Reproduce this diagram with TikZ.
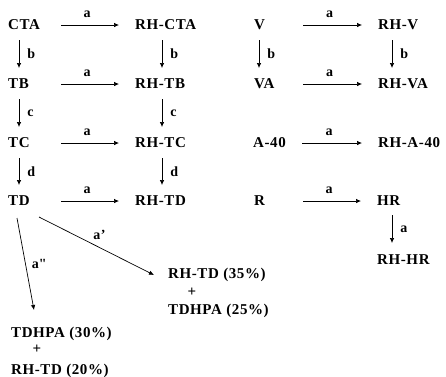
\documentclass[tikz,border=0pt]{standalone}
\usepackage{fontspec}
\setmainfont{Liberation Serif}[LetterSpace=4]
\newfontfamily\rawfont{Liberation Serif}[Ligatures=TeXOff]
\usetikzlibrary{arrows.meta,calc}
\tikzset{
  chem/.style={anchor=base west,inner sep=0pt,font=\fontsize{15}{17}\selectfont\bfseries},
  plus/.style={inner sep=0pt,font=\fontsize{15}{17}\selectfont\bfseries},
  lbl/.style={inner sep=0pt,font=\fontsize{14}{16}\selectfont\bfseries},
  rx/.style={line width=0.7pt,-{Latex[length=5pt,width=4.5pt]}}
}
\begin{document}
\begin{tikzpicture}[x=1pt,y=-1pt]
\useasboundingbox (0,0) rectangle (446,376);
% column 1/2
\node[chem] (cta) at (8,29) {CTA};
\node[chem] (rhcta) at (135,29) {RH-CTA};
\node[chem] (tb) at (8,88) {TB};
\node[chem] (rhtb) at (135,88) {RH-TB};
\node[chem] (tc) at (8,147) {TC};
\node[chem] (rhtc) at (135,147) {RH-TC};
\node[chem] (td) at (8,205) {TD};
\node[chem] (rhtd) at (135,205) {RH-TD};
% column 3/4
\node[chem] (v) at (254,29) {V};
\node[chem] (rhv) at (378,29) {RH-V};
\node[chem] (va) at (254,88) {VA};
\node[chem] (rhva) at (378,88) {RH-VA};
\node[chem] (a40) at (253,147) {A-40};
\node[chem] (rha40) at (378,147) {RH-A-40};
\node[chem] (r) at (254,205) {R};
\node[chem] (hr) at (377,205) {HR};
\node[chem] (rhhr) at (377,264) {RH-HR};
% products
\node[chem] (p1a) at (168,278) {RH-TD (35\%)};
\node[plus] (p1p) at (192,292) {+};
\node[chem] (p1b) at (168,314) {TDHPA (25\%)};
\node[chem] (p2a) at (11,337) {TDHPA (30\%)};
\node[plus] (p2p) at (37,349) {+};
\node[chem] (p2b) at (11,374) {RH-TD (20\%)};
% horizontal arrows
\foreach \s/\t in {cta/rhcta,tb/rhtb,tc/rhtc,td/rhtd}{
  \draw[rx] ($(\s.base west)+(53,-4)$) -- node[lbl,above=7pt,xshift=-3pt]{a} ($(\t.base west)+(-16,-4)$);
}
\foreach \s/\t in {v/rhv,va/rhva,a40/rha40,r/hr}{
  \draw[rx] ($(\s.base west)+(49,-4)$) -- node[lbl,above=7pt,xshift=-3pt]{a} ($(\t.base west|-\s.base)+(-16,-4)$);
}
% vertical arrows
\draw[rx] ($(cta.base west)+(11,11)$) -- node[lbl,right=8pt]{b} ($(tb.base west)+(11,-20)$);
\draw[rx] ($(tb.base west)+(11,11)$) -- node[lbl,right=8pt]{c} ($(tc.base west)+(11,-20)$);
\draw[rx] ($(tc.base west)+(11,11)$) -- node[lbl,right=8pt]{d} ($(td.base west)+(11,-20)$);
\draw[rx] ($(rhcta.base west)+(27,11)$) -- node[lbl,right=8pt]{b} ($(rhtb.base west)+(27,-20)$);
\draw[rx] ($(rhtb.base west)+(27,11)$) -- node[lbl,right=8pt]{c} ($(rhtc.base west)+(27,-20)$);
\draw[rx] ($(rhtc.base west)+(27,11)$) -- node[lbl,right=8pt]{d} ($(rhtd.base west)+(27,-20)$);
\draw[rx] ($(v.base west)+(5,11)$) -- node[lbl,right=8pt]{b} ($(va.base west)+(5,-20)$);
\draw[rx] ($(rhv.base west)+(14,11)$) -- node[lbl,right=8pt]{b} ($(rhva.base west)+(14,-20)$);
\draw[rx] ($(hr.base west)+(15,10)$) -- node[lbl,right=8pt]{a} ($(rhhr.base west)+(15,-21)$);
% diagonal arrows
\draw[rx] ($(td.base west)+(9,13)$) -- node[lbl,right=6pt,font=\fontsize{14}{16}\rawfont\bfseries]{a"} ($(p2a.base west)+(23,-27)$);
\draw[rx] ($(td.base west)+(31,12)$) -- node[lbl,above=6pt,xshift=3pt]{a'} ($(p1a.base west)+(-14,-3)$);
\end{tikzpicture}
\end{document}
